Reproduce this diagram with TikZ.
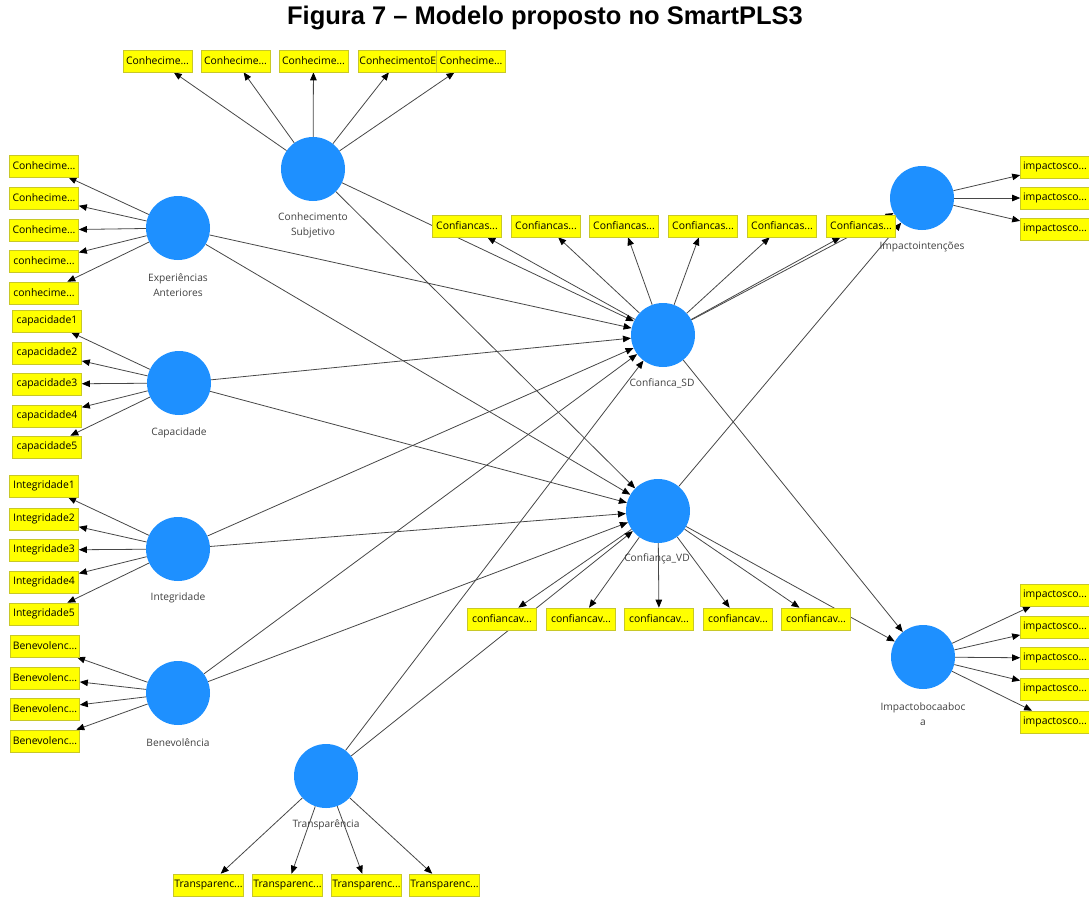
\documentclass[tikz,border=0pt]{standalone}
\usepackage{fontspec}
\setmainfont{Open Sans}
\newfontfamily\titlefont{Liberation Sans}
\usetikzlibrary{arrows.meta,backgrounds}
\definecolor{lvblue}{RGB}{30,144,255}
\definecolor{indyel}{RGB}{255,255,0}
\definecolor{indbrd}{RGB}{200,200,40}
\begin{document}
\begin{tikzpicture}[x=1pt,y=-1pt,
  lv/.style={circle, fill=lvblue, minimum size=64pt, inner sep=0pt},
  ind/.style={rectangle, fill=indyel, draw=indbrd, line width=0.6pt, minimum width=69pt, minimum height=22pt, inner sep=1pt, font=\fontsize{10.4}{11}\selectfont},
  lbl/.style={font=\fontsize{10.2}{14.5}\selectfont, text=black!75, align=center, inner sep=0pt},
  lk/.style={draw=black!72, line width=0.8pt, -{Triangle[length=8pt,width=6.5pt,color=black]}}]
\useasboundingbox (0,0) rectangle (1089,897);

\node[font=\titlefont\bfseries\fontsize{25.5}{28}\selectfont] (title) at (545,18) {Figura 7 – Modelo proposto no SmartPLS3};

% latent variables
\node[lv] (CS) at (313,169) {};
\node[lv] (EA) at (178,228) {};
\node[lv] (CAP) at (179,383) {};
\node[lv] (INT) at (178,549) {};
\node[lv] (BEN) at (178,693) {};
\node[lv] (TR) at (326,776) {};
\node[lv] (SD) at (663,335) {};
\node[lv] (VD) at (658,511) {};
\node[lv] (II) at (922,198) {};
\node[lv] (IB) at (923,657) {};

% latent labels
\node[lbl] (CSl) at (313,225.5) {Conhecimento\\Subjetivo};
\node[lbl] (EAl) at (178,285) {Experiências\\Anteriores};
\node[lbl] (CAPl) at (179,433) {Capacidade};
\node[lbl] (INTl) at (178,598) {Integridade};
\node[lbl] (BENl) at (178,743) {Benevolência};
\node[lbl] (TRl) at (326,825) {Transparência};
\node[lbl] (SDl) at (662,383) {Confianca\_SD};
\node[lbl] (VDl) at (657,559) {Confiança\_VD};
\node[lbl] (IIl) at (922,247) {Impactointenções};
\node[lbl] (IBl) at (923,714) {Impactobocaaboc\\a};

% indicators: Conhecimento Subjetivo
\node[ind] (cs1) at (157.5,61) {Conhecime...};
\node[ind] (cs2) at (235.5,61) {Conhecime...};
\node[ind] (cs3) at (313.5,61) {Conhecime...};
\node[ind, minimum width=79pt, align=left, anchor=west] (cs4) at (358,61) {ConhecimentoE};
\node[ind] (cs5) at (471,61) {Conhecime...};

% Experiencias Anteriores
\node[ind] (ea1) at (44,166) {Conhecime...};
\node[ind] (ea2) at (44,198) {Conhecime...};
\node[ind] (ea3) at (44,230) {Conhecime...};
\node[ind] (ea4) at (44,261) {conhecime...};
\node[ind] (ea5) at (44,293) {conhecime...};

% Capacidade
\foreach \i/\y in {1/321,2/353,3/384,4/416,5/447}
  \node[ind] (cap\i) at (47,\y) {capacidade\i};

% Integridade
\foreach \i/\y in {1/486,2/519,3/550,4/582,5/614}
  \node[ind] (int\i) at (44,\y) {Integridade\i};

% Benevolencia
\foreach \i/\y in {1/646,2/678,3/709,4/741}
  \node[ind] (ben\i) at (45,\y) {Benevolenc...};

% Transparencia
\foreach \i/\x in {1/208.5,2/287.5,3/366.5,4/444.5}
  \node[ind] (tr\i) at (\x,885) {Transparenc...};

% Confianca_SD
\foreach \i/\x in {1/467,2/546,3/624,4/703,5/782,6/861}
  \node[ind] (sd\i) at (\x,226) {Confiancas...};

% Confianca_VD
\foreach \i/\x in {1/502,2/581,3/659,4/738,5/816}
  \node[ind] (vd\i) at (\x,619) {confiancav...};

% Impactointencoes
\foreach \i/\y in {1/167,2/198,3/229}
  \node[ind] (ii\i) at (1055,\y) {impactosco...};

% Impactobocaaboca
\foreach \i/\y in {1/595,2/627,3/658,4/689,5/722}
  \node[ind] (ib\i) at (1055,\y) {impactosco...};

\begin{scope}[on background layer]
  \foreach \i in {1,...,5} \draw[lk] (CS) -- (cs\i);
  \foreach \i in {1,...,5} \draw[lk] (EA) -- (ea\i);
  \foreach \i in {1,...,5} \draw[lk] (CAP) -- (cap\i);
  \foreach \i in {1,...,5} \draw[lk] (INT) -- (int\i);
  \foreach \i in {1,...,4} \draw[lk] (BEN) -- (ben\i);
  \foreach \i in {1,...,4} \draw[lk] (TR) -- (tr\i);
  \foreach \i in {1,...,6} \draw[lk] (SD) -- (sd\i);
  \foreach \i in {1,...,5} \draw[lk] (VD) -- (vd\i);
  \foreach \i in {1,...,3} \draw[lk] (II) -- (ii\i);
  \foreach \i in {1,...,5} \draw[lk] (IB) -- (ib\i);
  \foreach \s in {CS,EA,CAP,INT,BEN,TR} {
    \draw[lk] (\s) -- (SD);
    \draw[lk] (\s) -- (VD);
  }
  \foreach \s in {SD,VD} {
    \draw[lk] (\s) -- (II);
    \draw[lk] (\s) -- (IB);
  }
\end{scope}
\end{tikzpicture}
\end{document}
